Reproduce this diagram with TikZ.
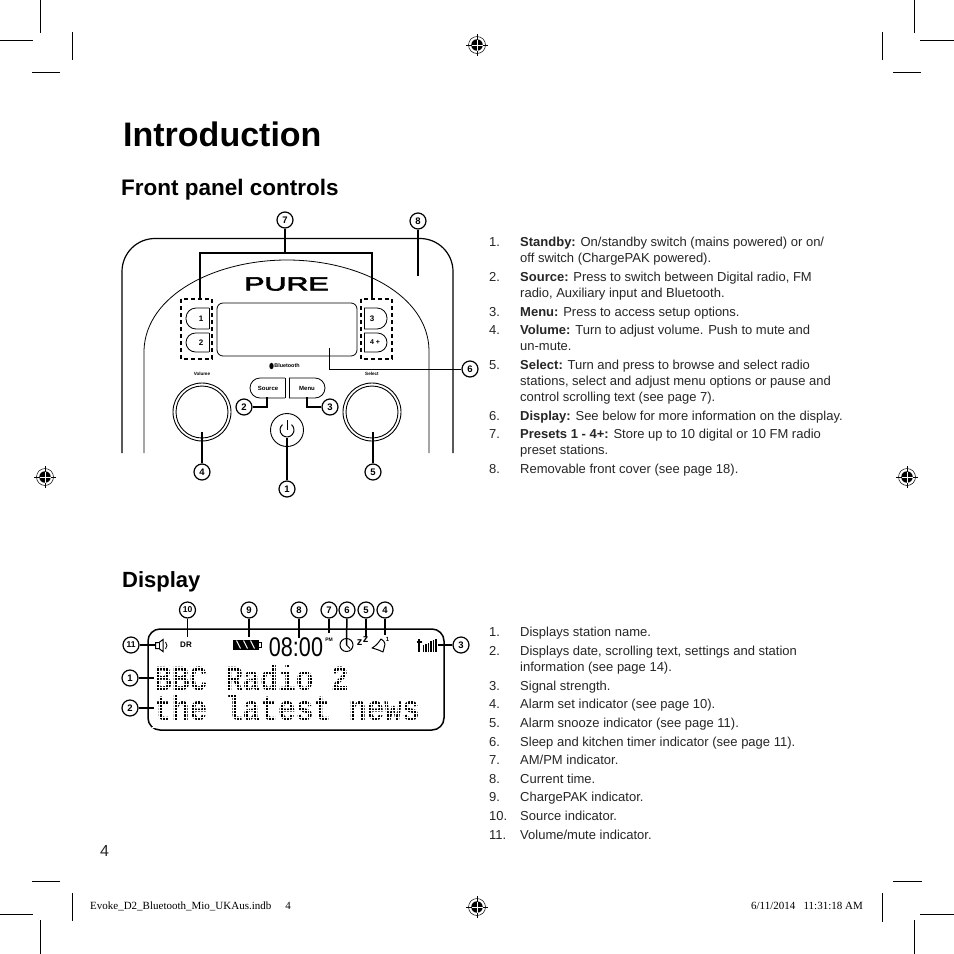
\documentclass[tikz,border=0pt]{standalone}
\usepackage{fontspec}
\setmainfont{Liberation Sans}
\newfontfamily\footfont{Liberation Serif}
\newfontfamily\dotfont{Liberation Mono}
\newfontfamily\logofont[FakeBold=3]{Liberation Sans}
\usetikzlibrary{calc}
\newcount\linecount
\newcommand{\bodyline}[2]{\global\advance\linecount by 1
  \node[bodytext] (line\the\linecount) at (520,#1) {#2};}
\newcommand{\numline}[3]{\global\advance\linecount by 1
  \node[bodytext] (num\the\linecount) at (489,#1) {#2};
  \node[bodytext] (line\the\linecount) at (520,#1) {#3};}
\newcommand{\regmark}[2]{%
  \node[regring] (#1) at (#2) {};
  \node[regdisc] (#1d) at (#2) {};
  \draw[regline] ($(#1)+(-11,0)$) -- ($(#1)+(11,0)$);
  \draw[regline] ($(#1)+(0,-11)$) -- ($(#1)+(0,11)$);
  \draw[regcross] ($(#1)+(-5.5,0)$) -- ($(#1)+(5.5,0)$);
  \draw[regcross] ($(#1)+(0,-5.5)$) -- ($(#1)+(0,5.5)$);
}
\tikzset{
  bodytext/.style={anchor=base west,inner sep=0pt,yshift=-0.7pt,text=black!85,font=\fontsize{13}{15}\selectfont},
  callout/.style={circle,draw,line width=1.2pt,fill=white,minimum size=16pt,inner sep=0pt,font=\bfseries\fontsize{9.5}{10}\selectfont},
  smallcallout/.style={callout,font=\bfseries\fontsize{8.5}{9}\selectfont},
  lead/.style={line width=1.5pt},
  body/.style={line width=1.2pt},
  thin body/.style={line width=.8pt},
  crop/.style={line width=.8pt},
  keylabel/.style={inner sep=0pt,font=\bfseries\fontsize{8}{9}\selectfont},
  tinylabel/.style={inner sep=0pt,font=\bfseries\fontsize{4.6}{5}\selectfont},
  regring/.style={circle,draw,line width=.5pt,minimum size=17pt,inner sep=0pt},
  regdisc/.style={circle,fill=black,minimum size=11.5pt,inner sep=0pt},
  regline/.style={line width=.7pt},
  regcross/.style={line width=.8pt,white},
  dashbox/.style={line width=1.4pt,dash pattern=on 4pt off 3pt},
  knob/.style={circle,draw,line width=.9pt,inner sep=0pt},
  dotline/.style={inner sep=0pt,align=left,anchor=base west,font=\dotfont\bfseries\fontsize{29.5}{30}\selectfont},
}
\begin{document}
\begin{tikzpicture}[x=1pt,y=-1pt]
\useasboundingbox (0,0) rectangle (954,954);
\fill[white] (0,0) rectangle (954,954);

% crop marks
\draw[crop] (40.5,0) -- (40.5,33); \draw[crop] (0,40) -- (33,40);
\draw[crop] (72,32) -- (72,60);    \draw[crop] (32,72) -- (60,72);
\draw[crop] (914,0) -- (914,33);   \draw[crop] (920,40) -- (954,40);
\draw[crop] (882,32) -- (882,60);  \draw[crop] (893,72) -- (921,72);
\draw[crop] (40.5,920) -- (40.5,954); \draw[crop] (0,914) -- (33,914);
\draw[crop] (72,893) -- (72,921);  \draw[crop] (32,881) -- (60,881);
\draw[crop] (914,920) -- (914,954); \draw[crop] (920,914) -- (954,914);
\draw[crop] (882,893) -- (882,922); \draw[crop] (893,881) -- (922,881);

\regmark{regtop}{477,45}
\regmark{regleft}{45,477}
\regmark{regright}{907,477}
\regmark{regbottom}{477,907}

% headings
\node[anchor=base west,inner sep=0pt,font=\bfseries\fontsize{34}{40}\selectfont] (title) at (123,146) {Introduction};
\node[anchor=base west,inner sep=0pt,font=\bfseries\fontsize{22.5}{26}\selectfont] (front) at (121,195) {Front panel controls};
\node[anchor=base west,inner sep=0pt,font=\bfseries\fontsize{22}{26}\selectfont] (disp) at (122,587) {Display};

% radio body
\draw[body,rounded corners=33pt] (122,453) -- (122,238.5) -- (453,238.5) -- (453,453);
\draw[thin body] (144,453) -- (144,350) .. controls (146,295) and (215,260) .. (287,260)
   .. controls (359,260) and (428,295) .. (429,350) -- (429,453);

% logo
\node[inner sep=0pt,font=\logofont\fontsize{19}{20}\selectfont] (logo) at (286.5,284) {\scalebox{1.6}[1]{PURE}};

% lcd window
\draw[thin body,rounded corners=6pt] (217,303) rectangle (357,356);
\coordinate (lcdpoint) at (329,348);

% preset keys
\draw[dashbox] (181,299) rectangle (212,359);
\draw[dashbox] (361,299) rectangle (392,359);
\draw[thin body,rounded corners=10pt] (209,308) -- (186,308) -- (186,329) -- (209,329);
\draw[thin body] (209,308) -- (209,329);
\draw[thin body,rounded corners=9.5pt] (209,333) -- (186,333) -- (186,352) -- (209,352);
\draw[thin body] (209,333) -- (209,352);
\draw[thin body,rounded corners=10pt] (364,308) -- (387,308) -- (387,329) -- (364,329);
\draw[thin body] (364,308) -- (364,329);
\draw[thin body,rounded corners=9.5pt] (364,333) -- (387,333) -- (387,352) -- (364,352);
\draw[thin body] (364,333) -- (364,352);
\node[keylabel] (k1) at (201,318.5) {1};
\node[keylabel] (k2) at (201,342.5) {2};
\node[keylabel] (k3) at (372,318.5) {3};
\node[keylabel,font=\bfseries\fontsize{7}{8}\selectfont] (k4) at (375,342.5) {4 +};

% source and menu
\draw[thin body,rounded corners=10pt] (285,378) -- (250,378) -- (250,398) -- (285,398);
\draw[thin body] (285,378) -- (285,398);
\draw[thin body,rounded corners=10pt] (289,378) -- (325,378) -- (325,398) -- (289,398);
\draw[thin body] (289,378) -- (289,398);
\node[tinylabel,font=\bfseries\fontsize{6}{7}\selectfont] (source) at (268,388) {Source};
\node[tinylabel,font=\bfseries\fontsize{6}{7}\selectfont] (menu) at (307,388) {Menu};
\node[tinylabel,font=\bfseries\fontsize{5.4}{6}\selectfont] (bt) at (287,366) {Bluetooth};
\fill (271.5,366) ellipse[x radius=2.2,y radius=3.2];
\node[tinylabel] (vollabel) at (202,374) {Volume};
\node[tinylabel] (sellabel) at (372,374) {Select};

% knobs
\node[knob,minimum size=58pt] (vol) at (202,412) {};
\node[knob,minimum size=52pt] (volin) at (202,412) {};
\node[knob,minimum size=58pt] (sel) at (372,412) {};
\node[knob,minimum size=52pt] (selin) at (372,412) {};
\node[knob,minimum size=33pt] (power) at (287,430) {};
\draw[line width=1pt] ($(power)+(4.5,-5.4)$) arc[start angle=-50,end angle=230,radius=7];
\draw[line width=1pt] ($(power)+(0,-10)$) -- ($(power)+(0,0)$);
\coordinate (volpoint) at (202,432);
\coordinate (selpoint) at (373,432);
\coordinate (powerpoint) at (287,438);
\coordinate (sourcepoint) at (267,397);
\coordinate (menupoint) at (307,397);
\coordinate (presetleft) at (200,299);
\coordinate (presetright) at (372,299);
\coordinate (coverpoint) at (418,276);

% front callouts
\node[callout] (c7) at (285,220) {7};
\node[callout] (c8) at (418,221) {8};
\node[callout] (c6) at (470,369) {6};
\node[callout] (c2) at (244,407) {2};
\node[callout] (c3) at (330,407) {3};
\node[callout] (c4) at (202,472) {4};
\node[callout] (c5) at (373,472) {5};
\node[callout] (c1) at (287,489) {1};
\draw[lead] (c7) -- (285,253);
\draw[lead] (presetleft) |- (285,253) -| (presetright);
\draw[lead] (c8) -- (coverpoint);
\draw[line width=1pt] (lcdpoint) |- (c6);
\draw[lead] (sourcepoint) |- (c2);
\draw[lead] (menupoint) |- (c3);
\draw[lead] (volpoint) -- (c4);
\draw[lead] (selpoint) -- (c5);
\draw[lead] (powerpoint) -- (c1);

% front list
\numline{245.5}{1.}{\textbf{Standby:} On/standby switch (mains powered) or on/}
\bodyline{261.5}{off switch (ChargePAK powered).}
\numline{280.5}{2.}{\textbf{Source:} Press to switch between Digital radio, FM}
\bodyline{296.5}{radio, Auxiliary input and Bluetooth.}
\numline{315.5}{3.}{\textbf{Menu:} Press to access setup options.}
\numline{333.5}{4.}{\textbf{Volume:} Turn to adjust volume. Push to mute and}
\bodyline{349.5}{un-mute.}
\numline{368.5}{5.}{\textbf{Select:} Turn and press to browse and select radio}
\bodyline{384.5}{stations, select and adjust menu options or pause and}
\bodyline{400.5}{control scrolling text (see page 7).}
\numline{419.5}{6.}{\textbf{Display:} See below for more information on the display.}
\numline{437.5}{7.}{\textbf{Presets 1 - 4+:} Store up to 10 digital or 10 FM radio}
\bodyline{453.5}{preset stations.}
\numline{472.5}{8.}{Removable front cover (see page 18).}

% display panel
\draw[line width=1.5pt,rounded corners=12pt] (148,629) rectangle (444,730);
\node[dotline] (rows) at (154,720) {\scalebox{1}[1.2]{BBC Radio 2}\\\scalebox{1}[1.2]{the latest news}};
\foreach \i in {0,...,90}
  \draw[white,line width=.55pt] ({153.4+2.95*\i},664) -- ({153.4+2.95*\i},728);
\foreach \j in {0,...,19}
  \draw[white,line width=.55pt] (152,{664.2+3.3*\j}) -- (425,{664.2+3.3*\j});

% speaker
\draw[line width=1pt] (155.5,642.5) -- (159,642.5) -- (163,639.5) -- (163,651.5) -- (159,648.5) -- (155.5,648.5) -- cycle;
\draw[line width=.8pt] (159,642.5) -- (159,648.5);
\draw[line width=.8pt] (165.5,642) .. controls (167.5,644) and (167.5,647) .. (165.5,649);

\node[inner sep=0pt,font=\bfseries\fontsize{8}{9}\selectfont] (dr) at (186,645) {DR};

% battery
\node[draw,fill=black,line width=1pt,minimum width=25pt,minimum height=9pt,inner sep=0pt] (batt) at (245.5,644.5) {};
\draw[line width=1pt] (batt.east) ++(0,-2.5) -- ++(2.5,0) -- ++(0,5) -- ++(-2.5,0);
\foreach \k in {-7,0,7}
  \draw[white,line width=1pt] ($(batt)+(\k-2,-4)$) -- ($(batt)+(\k+2,4)$);

% time
\node[inner sep=0pt,font=\fontsize{21.6}{22}\selectfont] (time) at (296,647.5) {\scalebox{1}[1.25]{08:00}};
\node[inner sep=0pt,font=\bfseries\fontsize{5}{6}\selectfont] (pm) at (329,640) {PM};

% clock
\node[circle,draw,line width=1pt,minimum size=13pt,inner sep=0pt] (clock) at (346.5,645) {};
\draw[line width=.9pt] (346.5,640.5) -- (clock.center) -- (350,648.5);

% snooze
\node[inner sep=0pt,font=\bfseries\fontsize{11}{12}\selectfont] (zlow) at (359.5,642.5) {z};
\node[inner sep=0pt,font=\bfseries\fontsize{11}{12}\selectfont] (zhigh) at (365.5,640) {z};

% bell
\draw[line width=1pt,line join=round] (372,648) .. controls (376,646) and (379,642) .. (381,639)
  .. controls (383,640) and (385,642) .. (385,644) .. controls (384,647) and (384,650) .. (383,652) .. controls (379,650) and (376,649) .. (372,648) -- cycle;
\node[inner sep=0pt,font=\bfseries\fontsize{6}{7}\selectfont] (bellone) at (387.5,639.5) {1};

% signal
\draw[line width=1.3pt] (419,639) -- (419,652);
\draw[line width=1.3pt] (416.5,642) -- (421.5,642);
\foreach \b/\h in {423.5/645,426/644,428.5/642.5,431/641,433.5/640,436/639}
  \draw[line width=1.3pt] (\b,652) -- (\b,\h);

% display callouts
\node[smallcallout] (d10) at (187.5,610) {10};
\node[callout] (d9) at (249,610) {9};
\node[callout] (d8) at (299,610) {8};
\node[callout] (d7) at (329,610) {7};
\node[callout] (d6) at (347,610) {6};
\node[callout] (d5) at (366,610) {5};
\node[callout] (d4) at (385,610) {4};
\node[smallcallout] (d11) at (131,645) {11};
\node[callout] (d1) at (130,678) {1};
\node[callout] (d2) at (130,708) {2};
\node[callout] (d3) at (461,645) {3};
\coordinate (p10) at (187.5,637);
\coordinate (p9) at (249,637);
\coordinate (p8) at (299,638);
\coordinate (p7) at (329,633);
\coordinate (p5) at (366,637);
\coordinate (p4) at (385,635);
\coordinate (p11) at (155,645);
\coordinate (p1) at (154,678);
\coordinate (p2) at (154,708);
\coordinate (p3) at (438,645);
\draw[lead] (d10) -- (p10);
\draw[lead] (d9) -- (p9);
\draw[lead] (d8) -- (p8);
\draw[lead] (d7) -- (p7);
\draw[lead] (d6) -- (clock.center);
\draw[lead] (d5) -- (p5);
\draw[lead] (d4) -- (p4);
\draw[lead] (d11) -- (p11);
\draw[lead] (d1) -- (p1);
\draw[lead] (d2) -- (p2);
\draw[lead] (d3) -- (p3);

% display list
\numline{635.5}{1.}{Displays station name.}
\numline{654.5}{2.}{Displays date, scrolling text, settings and station}
\bodyline{670.5}{information (see page 14).}
\numline{689.5}{3.}{Signal strength.}
\numline{707.5}{4.}{Alarm set indicator (see page 10).}
\numline{726.5}{5.}{Alarm snooze indicator (see page 11).}
\numline{745.5}{6.}{Sleep and kitchen timer indicator (see page 11).}
\numline{763.5}{7.}{AM/PM indicator.}
\numline{782.5}{8.}{Current time.}
\numline{800.5}{9.}{ChargePAK indicator.}
\numline{819.5}{10.}{Source indicator.}
\numline{838.5}{11.}{Volume/mute indicator.}

% page furniture
\node[anchor=base,inner sep=0pt,text=black!85,font=\fontsize{16}{18}\selectfont] (page) at (104.5,856) {4};
\node[anchor=base west,inner sep=0pt,font=\footfont\fontsize{11}{12}\selectfont] (footl) at (90,909.5) {Evoke\_D2\_Bluetooth\_Mio\_UKAus.indb\hspace{14pt}4};
\node[anchor=base east,inner sep=0pt,font=\footfont\fontsize{11}{12}\selectfont] (footr) at (863,909.5) {6/11/2014\ \ \ 11:31:18 AM};
\end{tikzpicture}
\end{document}
